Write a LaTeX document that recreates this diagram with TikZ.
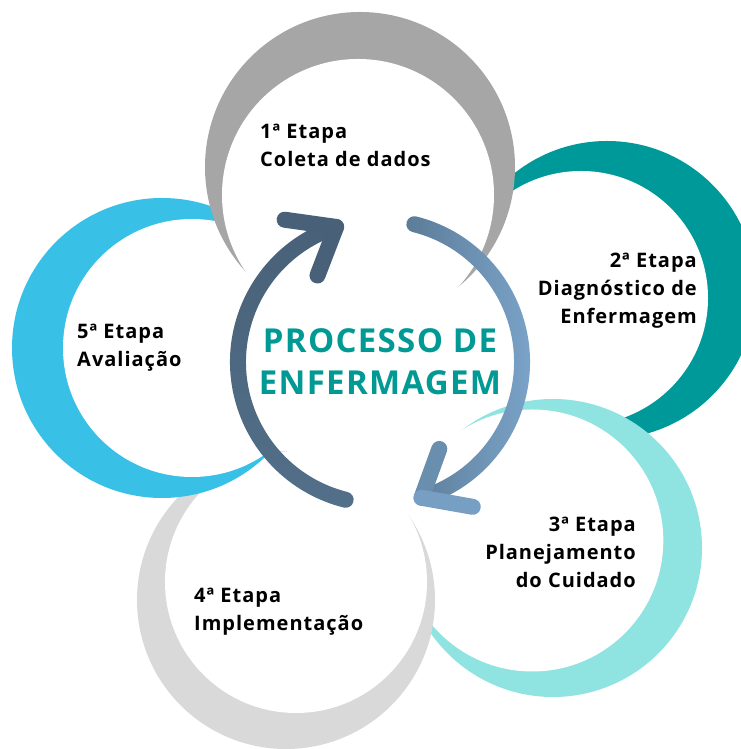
\documentclass[tikz,border=0pt]{standalone}
\usepackage{fontspec}
\setmainfont{Open Sans}
\definecolor{stageGray}{RGB}{166,166,166}
\definecolor{stageTeal}{RGB}{0,153,153}
\definecolor{stageAqua}{RGB}{143,227,224}
\definecolor{stageSilver}{RGB}{217,217,217}
\definecolor{stageSky}{RGB}{56,192,230}
\definecolor{titleTeal}{RGB}{0,153,148}
\definecolor{arrowDark}{RGB}{72,97,120}
\definecolor{arrowMid}{RGB}{92,124,152}
\definecolor{arrowLight}{RGB}{126,168,206}
\begin{document}
\begin{tikzpicture}[
  x=1pt,
  y=1pt,
  stage label/.style={
    font=\bfseries\fontsize{20}{28}\selectfont\addfontfeatures{LetterSpace=5},
    text=black,
    inner sep=0pt
  },
  hub title/.style={
    font=\bfseries\fontsize{33}{42}\selectfont\addfontfeatures{LetterSpace=4},
    text=titleTeal,
    align=center,
    inner sep=0pt
  },
  arrow arm/.style={line width=16pt, line cap=round}
]
  \useasboundingbox (0,0) rectangle (740,749);
  \fill[white] (0,0) rectangle (740,749);
  \foreach \ox/\oy/\outerR/\ix/\iy/\innerR/\stageColor in {
      607/459/149/581/451/127/stageTeal,
      553/201/149/532.3/208.5/131/stageAqua,
      286/149/149/296/167/131/stageSilver,
      162/401/150/192/401/129/stageSky,
      360/582/155/358/554/136/stageGray} {
    \fill[\stageColor] (\ox,\oy) circle[radius=\outerR];
    \fill[white] (\ix,\iy) circle[radius=\innerR];
  }
  \coordinate (hub) at (380,387);
  \begin{scope}[shift={(hub)}]
    \shade[top color=arrowDark, bottom color=arrowDark!80!arrowLight]
      (108:150) arc[start angle=108, end angle=256, radius=150]
      arc[start angle=256, end angle=436, radius=8]
      arc[start angle=256, end angle=108, radius=134] -- cycle;
    \shade[left color=arrowMid, right color=arrowLight]
      (-73:150) arc[start angle=-73, end angle=76, radius=150]
      arc[start angle=76, end angle=256, radius=8]
      arc[start angle=76, end angle=-73, radius=134] -- cycle;
    \coordinate (tipA) at (108:142);
    \coordinate (tipB) at (-73:142);
  \end{scope}
  \draw[arrow arm, arrowDark] (tipA) -- ++(172:52);
  \draw[arrow arm, arrowDark] (tipA) -- ++(249:52);
  \draw[arrow arm, arrowLight!40!arrowMid] (tipB) -- ++(70:52);
  \draw[arrow arm, arrowLight!80!arrowMid] (tipB) -- ++(-10:52);

  \node[hub title, anchor=base] (hubTitle) at (380,354) {PROCESSO DE\\ENFERMAGEM};
  \node[stage label, anchor=base west, align=left] (stageOne) at (260,582) {1ª Etapa\\Coleta de dados};
  \node[stage label, anchor=base east, align=right] (stageTwo) at (697,425) {2ª Etapa\\Diagnóstico de\\Enfermagem};
  \node[stage label, anchor=base east, align=right] (stageThree) at (636,161) {3ª Etapa\\Planejamento\\do Cuidado};
  \node[stage label, anchor=base west, align=left] (stageFour) at (194,118) {4ª Etapa\\Implementação};
  \node[stage label, anchor=base west, align=left] (stageFive) at (77,382) {5ª Etapa\\Avaliação};
\end{tikzpicture}
\end{document}
